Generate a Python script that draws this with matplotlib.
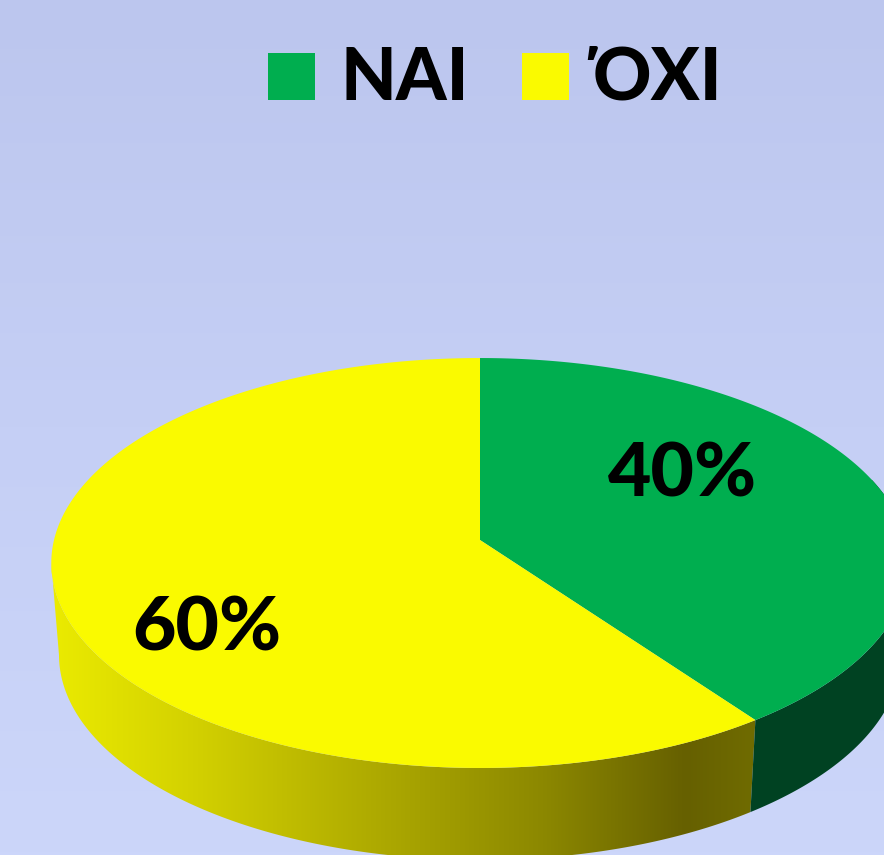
import numpy as np
import matplotlib
matplotlib.use("Agg")
import matplotlib.pyplot as plt
from matplotlib.colors import LinearSegmentedColormap
from matplotlib.patches import Polygon, Rectangle

categories = ["NAI", "ΌΧΙ"]
shares = [40, 60]
pct_labels = ["40%", "60%"]
colors = ["#00AE4F", "#FAFA00"]
side_color_green = "#004222"

W, H = 884, 855
plt.rcParams["font.family"] = ["Lato", "Open Sans", "DejaVu Sans"]
fig = plt.figure(figsize=(W / 100, H / 100), dpi=100)
ax = fig.add_axes([0, 0, 1, 1])
ax.set_xlim(0, W)
ax.set_ylim(H, 0)
ax.axis("off")

# background gradient
bg = LinearSegmentedColormap.from_list("bg", ["#BCC6EE", "#C5CFF5", "#CCD6FA"])
ax.imshow(np.linspace(0, 1, 256)[:, None], cmap=bg, extent=(0, W, H, 0), aspect="auto", zorder=0)
ax.set_xlim(0, W)
ax.set_ylim(H, 0)


def project(u, v):
    d = 1 - 0.1122 * v
    return 480 + 426 * u / d, (141.8 * v + 540) / d


def rim(t0, t1, n=240):
    """Perspective projection of a unit disc; angle clockwise from the top (fraction of a turn)."""
    th = np.linspace(t0, t1, n) * 2 * np.pi
    return project(np.sin(th), -np.cos(th))


def lower(x, y):
    return 480 + (x - 480) * 0.982, y + 92


frac = np.cumsum([0] + shares) / sum(shares)
left_tangent = 0.732  # the side wall is only visible up to the left edge of the disc

# side of the yellow slice (gradient, clipped to side shape)
x1, y1 = rim(frac[1], left_tangent)
x2, y2 = lower(x1, y1)
side_y = Polygon(np.r_[np.c_[x1, y1], np.c_[x2, y2][::-1]], closed=True, fc="none", ec="none", zorder=1)
ax.add_patch(side_y)
grad = LinearSegmentedColormap.from_list(
    "side",
    [(0, "#ECEC00"), (0.2, "#D4D200"), (0.45, "#B0AC00"), (0.7, "#8C8800"), (0.9, "#666000"), (1, "#706C00")],
)
im = ax.imshow(np.linspace(0, 1, 256)[None, :], cmap=grad, extent=(45, 758, H, 500), aspect="auto", zorder=1)
im.set_clip_path(side_y)
ax.set_xlim(0, W)
ax.set_ylim(H, 0)

# side of the green slice
x1, y1 = rim(frac[0] + 0.2, frac[1])
x2, y2 = lower(x1, y1)
ax.add_patch(Polygon(np.r_[np.c_[x1, y1], np.c_[x2, y2][::-1]], closed=True, fc=side_color_green, ec="none", zorder=1))

# top faces
ax_, ay_ = project(0.0, 0.0)
for i, c in enumerate(colors):
    x, y = rim(frac[i], frac[i + 1])
    ax.add_patch(Polygon(np.r_[[[ax_, ay_]], np.c_[x, y]], closed=True, fc=c, ec="none", zorder=2))

# percentage labels
label_pos = [(683, 475), (207, 629)]
for s, (x, y) in zip(pct_labels, label_pos):
    ax.text(x, y, s, fontsize=54, fontweight=900, ha="center", va="center", color="black", zorder=3)

# legend
legend_pos = [(268, 340), (522, 592)]
for name, c, (bx, tx) in zip(categories, colors, legend_pos):
    ax.add_patch(Rectangle((bx, 53), 47, 47, fc=c, ec="none", zorder=3))
    ax.text(tx, 100, name, fontsize=52, fontweight=900, ha="left", va="baseline", color="black", zorder=3)

fig.savefig("out.png", dpi=100)
